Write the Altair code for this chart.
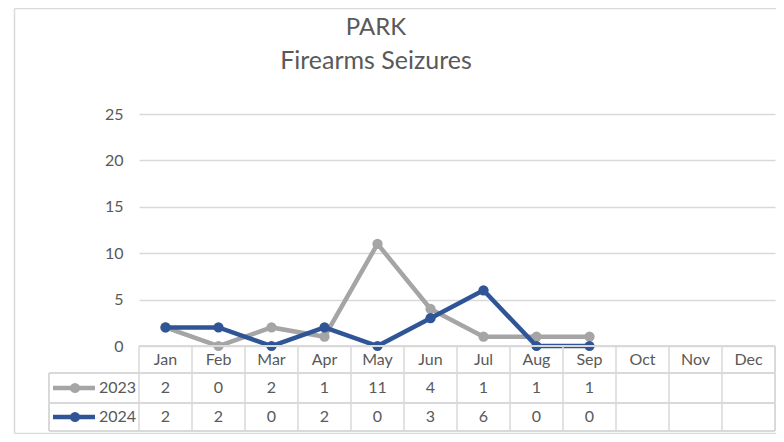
import altair as alt
import pandas as pd

MONTHS = ["Jan", "Feb", "Mar", "Apr", "May", "Jun", "Jul", "Aug", "Sep", "Oct", "Nov", "Dec"]
YEARS = ["2023", "2024"]
VALUES_2023 = [2, 0, 2, 1, 11, 4, 1, 1, 1]
VALUES_2024 = [2, 2, 0, 2, 0, 3, 6, 0, 0]
SERIES_COLORS = ["#a5a5a5", "#2f5597"]
Y_TICKS = [0, 5, 10, 15, 20, 25]
TITLE_LINES = ["PARK", "Firearms Seizures"]

W, H = 636, 232
TEXT = "#595959"
GRID = "#d9d9d9"
FONT = "Lato"

rows = []
for yr, vals in zip(YEARS, [VALUES_2023, VALUES_2024]):
    for m, v in zip(MONTHS, vals):
        rows.append({"month": m, "year": yr, "value": v})
df = pd.DataFrame(rows)
months_df = pd.DataFrame({"month": MONTHS})

xscale = alt.Scale(type="band", domain=MONTHS, paddingInner=0, paddingOuter=0)
yscale = alt.Scale(domain=[0, 25], nice=False)


def X(bp):
    return alt.X("month:N", scale=xscale, axis=None, bandPosition=bp)


layers = []

# gridlines / y axis
layers.append(
    alt.Chart(df).mark_point(opacity=0).encode(
        x=X(0.5),
        y=alt.Y("value:Q", scale=yscale, title=None,
                axis=alt.Axis(values=Y_TICKS, grid=True, gridColor=GRID, gridWidth=1.5,
                              domain=False, ticks=False, labelPadding=16,
                              labelFontSize=16, labelColor=TEXT, labelFont=FONT)),
    )
)

# series lines and markers
ROW_Y = [274, 303]
for yr, col, ry in zip(YEARS, SERIES_COLORS, ROW_Y):
    sub = alt.Chart(df).transform_filter(alt.datum.year == yr)
    layers.append(sub.mark_line(color=col, strokeWidth=4.5).encode(
        x=X(0.5), y=alt.Y("value:Q", scale=yscale)))
    layers.append(sub.mark_circle(color=col, size=105, opacity=1).encode(
        x=X(0.5), y=alt.Y("value:Q", scale=yscale)))

# table grid
line_style = dict(color=GRID, strokeWidth=1.5)
layers.append(alt.Chart(months_df).mark_rule(**line_style).encode(
    x=X(0), y=alt.value(232), y2=alt.value(317)))
layers.append(alt.Chart(months_df).mark_rule(**line_style).encode(
    x=alt.value(W), y=alt.value(232), y2=alt.value(317)))
layers.append(alt.Chart(months_df).mark_rule(**line_style).encode(
    x=alt.value(-90), y=alt.value(259), y2=alt.value(317)))
layers.append(alt.Chart(months_df).mark_rule(**line_style).encode(
    x=alt.value(0), x2=alt.value(W), y=alt.value(232)))
for yy in [259, 289, 317]:
    layers.append(alt.Chart(months_df).mark_rule(**line_style).encode(
        x=alt.value(-90), x2=alt.value(W), y=alt.value(yy)))

# month header
layers.append(alt.Chart(months_df).mark_text(fontSize=16, color=TEXT, font=FONT, baseline="middle").encode(
    x=X(0.5), y=alt.value(245.5), text="month:N"))

# values rows + legend keys
for yr, col, ry in zip(YEARS, SERIES_COLORS, ROW_Y):
    sub = alt.Chart(df).transform_filter(alt.datum.year == yr)
    layers.append(sub.mark_text(fontSize=16, color=TEXT, font=FONT, baseline="middle").encode(
        x=X(0.5), y=alt.value(ry), text="value:Q"))
    key = alt.Chart(alt.Data(values=[{"year": yr}]))
    layers.append(key.mark_rule(color=col, strokeWidth=4.5).encode(
        x=alt.value(-86), x2=alt.value(-44), y=alt.value(ry)))
    layers.append(key.mark_circle(color=col, size=105, opacity=1).encode(
        x=alt.value(-64), y=alt.value(ry)))
    layers.append(key.mark_text(fontSize=16, color=TEXT, font=FONT, baseline="middle", align="left").encode(
        x=alt.value(-40), y=alt.value(ry), text="year:N"))

# chart area border
border = dict(color=GRID, strokeWidth=1.5)
bd = alt.Chart(alt.Data(values=[{"k": 1}]))
layers.append(bd.mark_rule(**border).encode(x=alt.value(-124.5), y=alt.value(-105.5), y2=alt.value(319.5)))
layers.append(bd.mark_rule(**border).encode(x=alt.value(-124.5), x2=alt.value(W + 10), y=alt.value(319.5)))
layers.append(bd.mark_rule(**border).encode(x=alt.value(-124.5), x2=alt.value(W + 10), y=alt.value(-105.5)))

# titles
tdf = alt.Chart(alt.Data(values=[{"t0": TITLE_LINES[0], "t1": TITLE_LINES[1]}]))
layers.append(tdf.mark_text(fontSize=24, color=TEXT, font=FONT, baseline="middle").encode(
    x=alt.value(237), y=alt.value(-86), text="t0:N"))
layers.append(tdf.mark_text(fontSize=25, color=TEXT, font=FONT, baseline="middle").encode(
    x=alt.value(237), y=alt.value(-53), text="t1:N"))

chart = alt.layer(*layers).properties(
    width=W, height=H,
    autosize=alt.AutoSizeParams(type="none"),
    padding={"left": 131, "top": 106, "right": 1, "bottom": 88},
).configure_view(stroke=None)

chart.save("out.html", embed_options={"renderer": "svg", "actions": False})
